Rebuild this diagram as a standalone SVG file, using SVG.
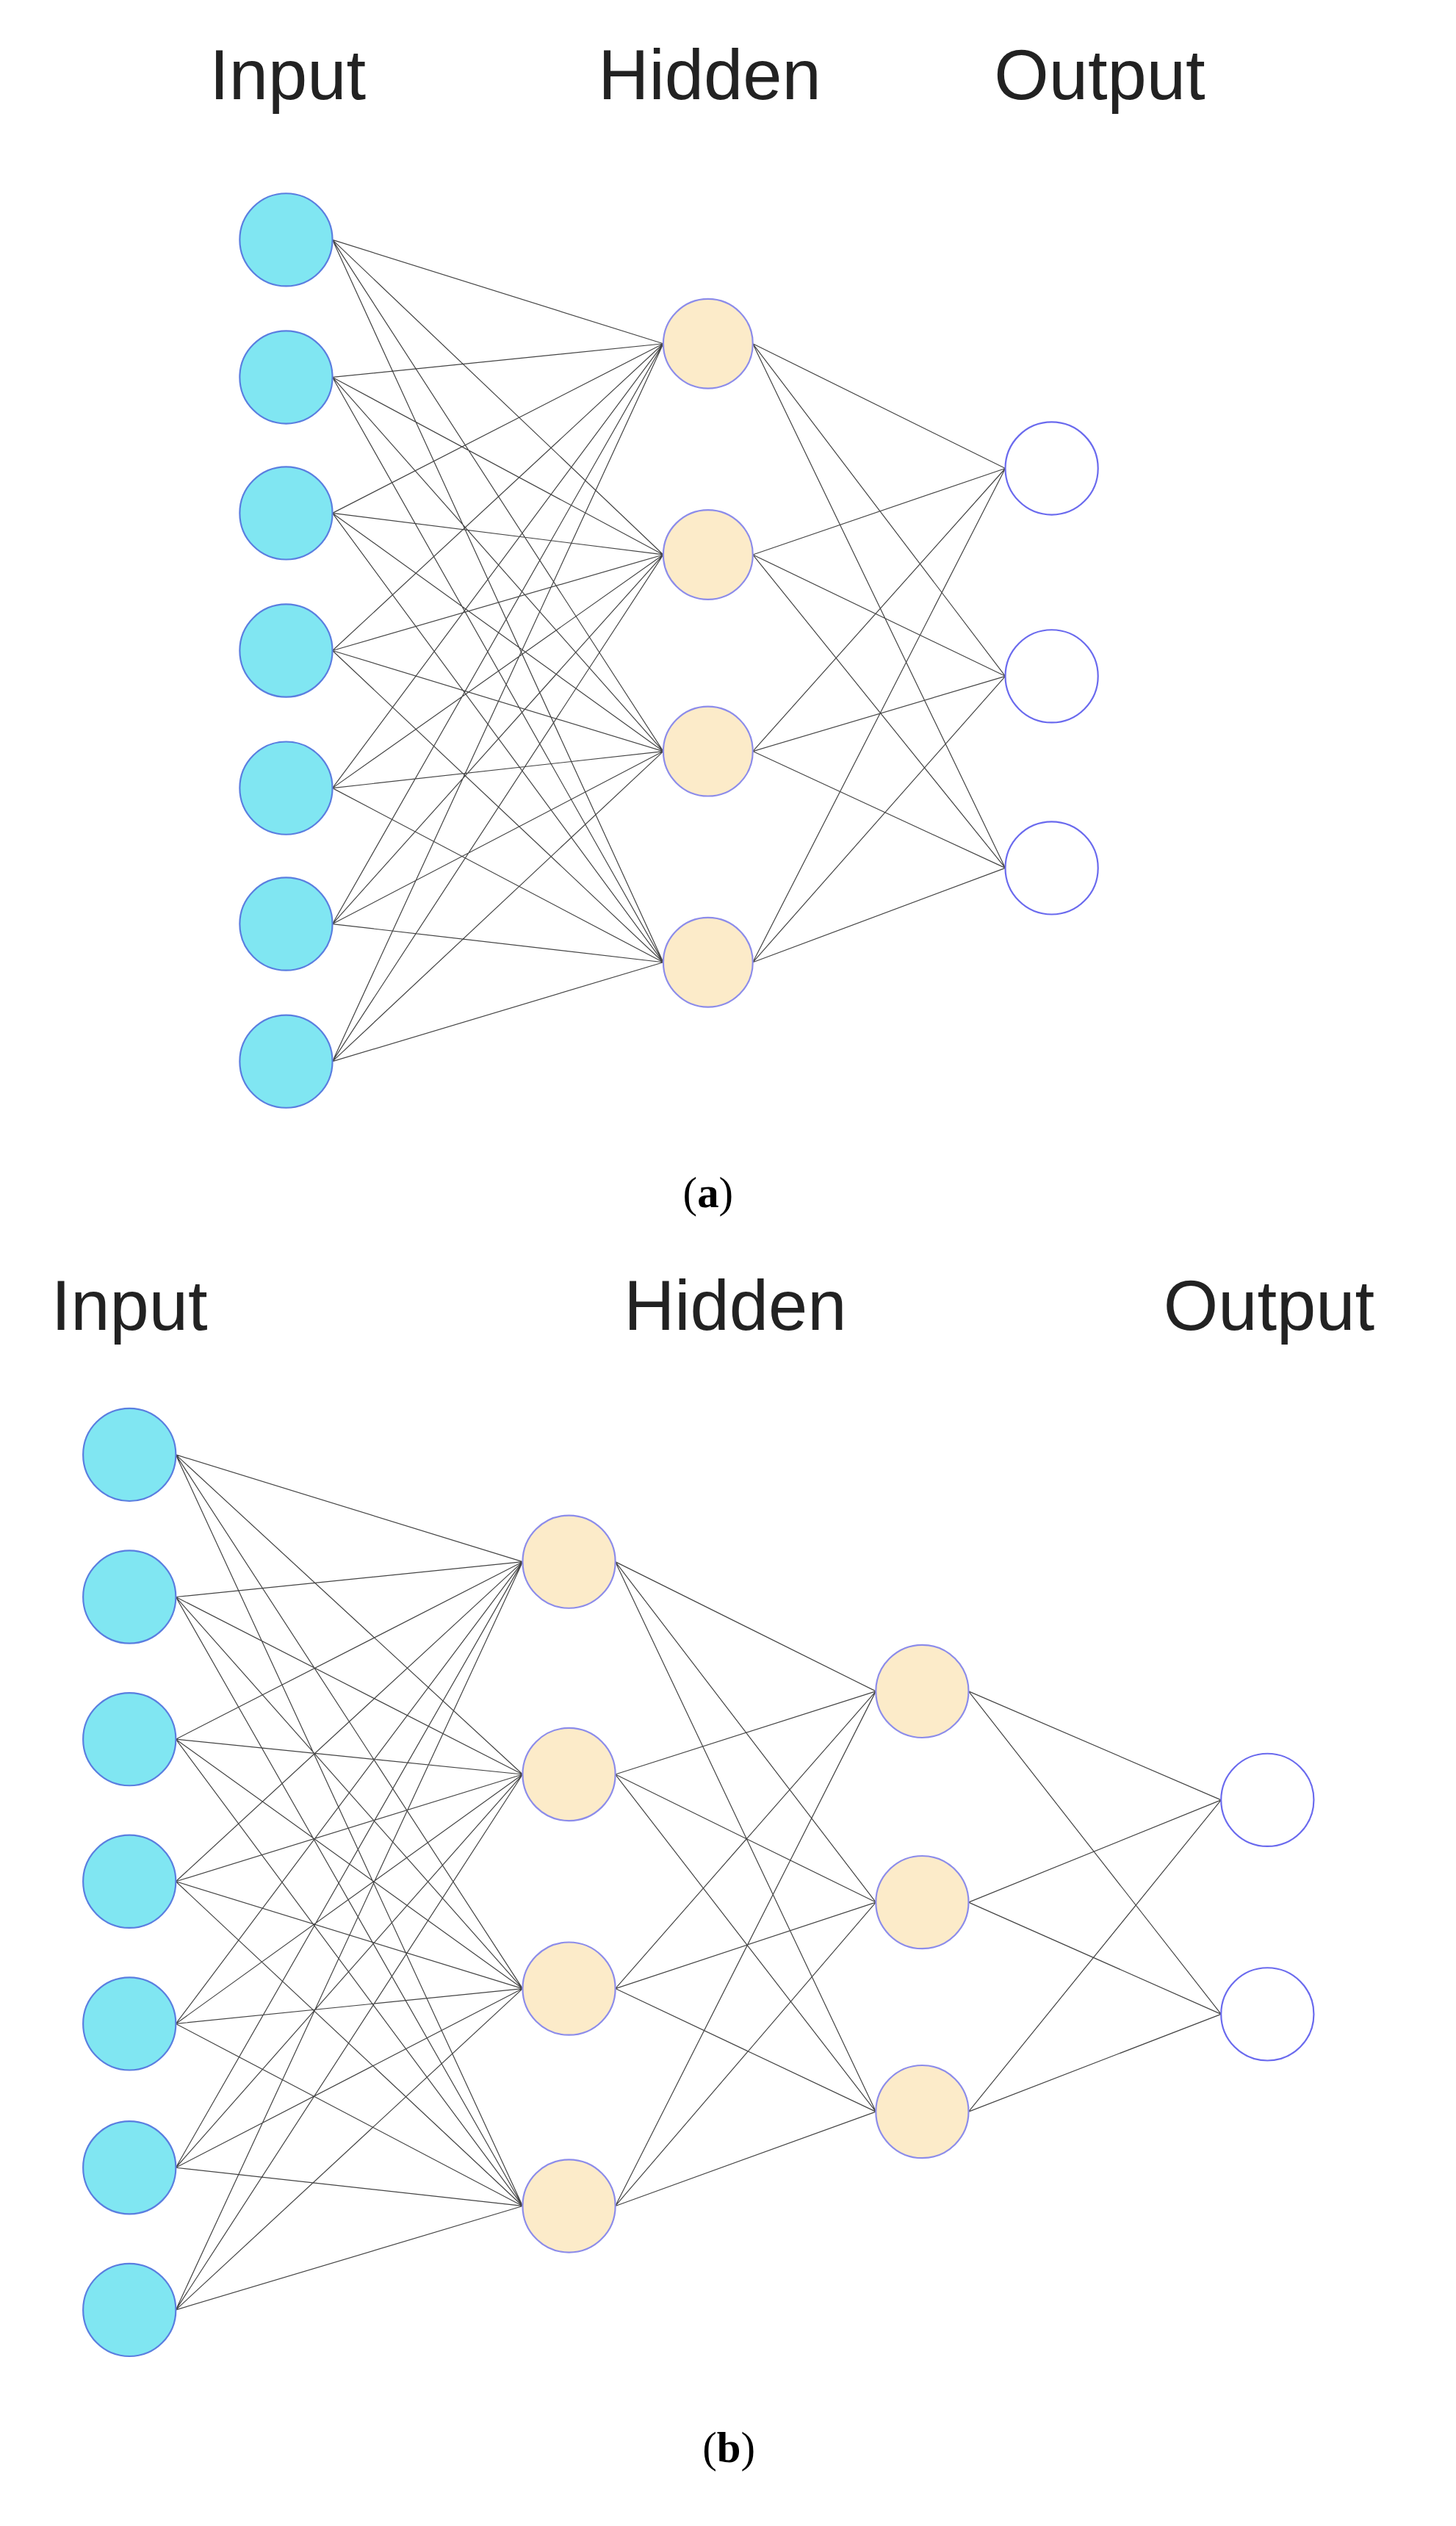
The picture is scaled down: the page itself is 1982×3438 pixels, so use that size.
<svg xmlns="http://www.w3.org/2000/svg" width="1982" height="3438" viewBox="0 0 1982 3438">
<style>
.in{fill:#80E6F2;stroke:#5A7EE0;stroke-width:1}
.hd{fill:#FCEBC9;stroke:#8C8CEA;stroke-width:1}
.out{fill:#fff;stroke:#6A6AEE;stroke-width:1}
.e{fill:none;stroke:#444;stroke-width:0.55}
.t{font-family:"Liberation Sans",Arial,sans-serif;font-size:44px;fill:#222;text-anchor:middle}
.c{font-family:"Liberation Serif","Times New Roman",serif;font-size:27px;fill:#000;text-anchor:middle}
</style>
<rect width="1982" height="3438" fill="#fff"/>
<g transform="scale(2.1757)">
<g id="labels">
<text class="t" x="180" y="62">Input</text>
<text class="t" x="444" y="62">Hidden</text>
<text class="t" x="688" y="62">Output</text>
<text class="c" x="443" y="755">(<tspan font-weight="bold">a</tspan>)</text>
<text class="t" x="81" y="832">Input</text>
<text class="t" x="460" y="832">Hidden</text>
<text class="t" x="794" y="832">Output</text>
<text class="c" x="456" y="1540">(<tspan font-weight="bold">b</tspan>)</text>
</g>
<g id="connectors">
<path class="e" d="M208 150L415 215M208 150L415 347M208 150L415 470M208 150L415 602
M208 236L415 215M208 236L415 347M208 236L415 470M208 236L415 602
M208 321L415 215M208 321L415 347M208 321L415 470M208 321L415 602
M208 407L415 215M208 407L415 347M208 407L415 470M208 407L415 602
M208 493L415 215M208 493L415 347M208 493L415 470M208 493L415 602
M208 578L415 215M208 578L415 347M208 578L415 470M208 578L415 602
M208 664L415 215M208 664L415 347M208 664L415 470M208 664L415 602
M471 215L629 293M471 215L629 423M471 215L629 543
M471 347L629 293M471 347L629 423M471 347L629 543
M471 470L629 293M471 470L629 423M471 470L629 543
M471 602L629 293M471 602L629 423M471 602L629 543"/>
<path class="e" d="M110 910L327 977M110 910L327 1110M110 910L327 1244M110 910L327 1380
M110 999L327 977M110 999L327 1110M110 999L327 1244M110 999L327 1380
M110 1088L327 977M110 1088L327 1110M110 1088L327 1244M110 1088L327 1380
M110 1177L327 977M110 1177L327 1110M110 1177L327 1244M110 1177L327 1380
M110 1266L327 977M110 1266L327 1110M110 1266L327 1244M110 1266L327 1380
M110 1356L327 977M110 1356L327 1110M110 1356L327 1244M110 1356L327 1380
M110 1445L327 977M110 1445L327 1110M110 1445L327 1244M110 1445L327 1380
M385 977L548 1058M385 977L548 1190M385 977L548 1321
M385 1110L548 1058M385 1110L548 1190M385 1110L548 1321
M385 1244L548 1058M385 1244L548 1190M385 1244L548 1321
M385 1380L548 1058M385 1380L548 1190M385 1380L548 1321
M606 1058L764 1126M606 1058L764 1260
M606 1190L764 1126M606 1190L764 1260
M606 1321L764 1126M606 1321L764 1260"/>
</g>
<g id="a-input"><circle class="in" cx="179" cy="150" r="29"/><circle class="in" cx="179" cy="236" r="29"/><circle class="in" cx="179" cy="321" r="29"/><circle class="in" cx="179" cy="407" r="29"/><circle class="in" cx="179" cy="493" r="29"/><circle class="in" cx="179" cy="578" r="29"/><circle class="in" cx="179" cy="664" r="29"/></g>
<g id="a-hidden"><circle class="hd" cx="443" cy="215" r="28"/><circle class="hd" cx="443" cy="347" r="28"/><circle class="hd" cx="443" cy="470" r="28"/><circle class="hd" cx="443" cy="602" r="28"/></g>
<g id="a-output"><circle class="out" cx="658" cy="293" r="29"/><circle class="out" cx="658" cy="423" r="29"/><circle class="out" cx="658" cy="543" r="29"/></g>
<g id="b-input"><circle class="in" cx="81" cy="910" r="29"/><circle class="in" cx="81" cy="999" r="29"/><circle class="in" cx="81" cy="1088" r="29"/><circle class="in" cx="81" cy="1177" r="29"/><circle class="in" cx="81" cy="1266" r="29"/><circle class="in" cx="81" cy="1356" r="29"/><circle class="in" cx="81" cy="1445" r="29"/></g>
<g id="b-hidden1"><circle class="hd" cx="356" cy="977" r="29"/><circle class="hd" cx="356" cy="1110" r="29"/><circle class="hd" cx="356" cy="1244" r="29"/><circle class="hd" cx="356" cy="1380" r="29"/></g>
<g id="b-hidden2"><circle class="hd" cx="577" cy="1058" r="29"/><circle class="hd" cx="577" cy="1190" r="29"/><circle class="hd" cx="577" cy="1321" r="29"/></g>
<g id="b-output"><circle class="out" cx="793" cy="1126" r="29"/><circle class="out" cx="793" cy="1260" r="29"/></g>
</g>
</svg>
